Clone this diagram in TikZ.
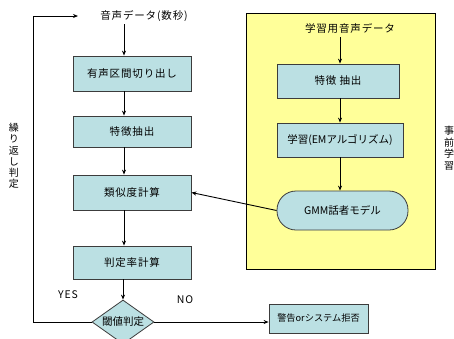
\documentclass[tikz,border=0pt]{standalone}
\usepackage{fontspec}
\setmainfont{Noto Sans CJK JP}
\newfontfamily\jp[LetterSpace=8]{Noto Sans CJK JP}
\usetikzlibrary{shapes.geometric,arrows.meta}
\definecolor{boxfill}{RGB}{187,224,227}
\definecolor{panelfill}{RGB}{255,255,153}
\definecolor{edge}{RGB}{60,60,60}
\tikzset{
  procbox/.style={draw=edge, line width=0.8pt, fill=boxfill, inner sep=0pt, font=\fontsize{10.5}{12}\jp},
  lbl/.style={inner sep=0pt, font=\fontsize{10.5}{12}\jp},
  flow/.style={line width=0.9pt, -{Stealth[length=5pt,width=4pt]}},
  plain/.style={line width=0.8pt},
}
\begin{document}
\begin{tikzpicture}[x=1pt,y=-1pt]
\useasboundingbox (0,0) rectangle (454,338);
\clip (0,0) rectangle (454,338);
\fill[white] (0,0) rectangle (454,338);
% panel
\node[draw=black, line width=0.9pt, fill=panelfill, minimum width=189pt, minimum height=256pt, inner sep=0pt] (panel) at (340.5,141) {};
% left column
\node[lbl] (src) at (144,16) {音声データ(数秒)};
\node[procbox, minimum width=118pt, minimum height=35pt] (b1) at (132,73.5) {有声区間切り出し};
\node[procbox, minimum width=118pt, minimum height=31pt] (b2) at (132,131.5) {特徴抽出};
\node[procbox, minimum width=118pt, minimum height=35pt] (b3) at (132,192.5) {類似度計算};
\node[procbox, minimum width=118pt, minimum height=33pt] (b4) at (132,262.5) {判定率計算};
\node[draw=edge, line width=0.8pt, fill=boxfill, shape=diamond, inner sep=0pt, minimum width=62pt, minimum height=44pt] (dec) at (123,322) {};
\node[lbl, font=\fontsize{10.5}{12}\selectfont] (dect) at (dec) {閾値判定};
\node[procbox, minimum width=99pt, minimum height=29pt, font=\fontsize{9.2}{11}\selectfont] (warn) at (318.5,318.5) {警告orシステム拒否};
% right column
\node[lbl] (tsrc) at (350,28) {学習用音声データ};
\node[procbox, minimum width=122pt, minimum height=34pt] (r1) at (338,81) {特徴 抽出};
\node[procbox, minimum width=126pt, minimum height=34pt, font=\fontsize{10.5}{12}\selectfont] (r2) at (340,140) {学習(EMアルゴリズム)};
\node[procbox, rounded corners=19pt, minimum width=131pt, minimum height=39pt, font=\fontsize{10.5}{12}\selectfont] (gmm) at (342.5,210.5) {GMM話者モデル};
% labels
\node[lbl] (yes) at (68,295) {YES};
\node[lbl] (no) at (185,300) {NO};
\node[inner sep=0pt, align=center, font=\fontsize{10}{11.2}\selectfont] (loopt) at (14,156) {繰\\り\\返\\し\\判\\定};
\node[inner sep=0pt, align=center, font=\fontsize{10}{11.5}\selectfont] (pret) at (449,148) {事\\前\\学\\習};
% connectors
\coordinate (lc1) at (33,322);
\coordinate (lc2) at (33,16);
\coordinate (lc3) at (78,16);
\draw[flow] (124,24) -- (b1.north -| 124,0);
\draw[flow] (b1.south -| 124,0) -- (b2.north -| 124,0);
\draw[flow] (b2.south -| 124,0) -- (b3.north -| 124,0);
\draw[flow] (b3.south -| 124,0) -- (b4.north -| 124,0);
\draw[flow] (b4.south -| 123,0) -- (dec.north);
\draw[flow] (340,37) -- (r1.north -| 340,0);
\draw[flow] (r1.south -| 340,0) -- (r2.north -| 340,0);
\draw[flow] (r2.south -| 340,0) -- (gmm.north -| 340,0);
\draw[flow] (gmm.west) -- (b3.east);
\draw[flow] (dec.east) -- (warn.west |- dec.east);
\draw[plain] (dec.west) -- (lc1) -- (lc2);
\draw[flow] (lc2) -- (lc3);
\end{tikzpicture}
\end{document}
